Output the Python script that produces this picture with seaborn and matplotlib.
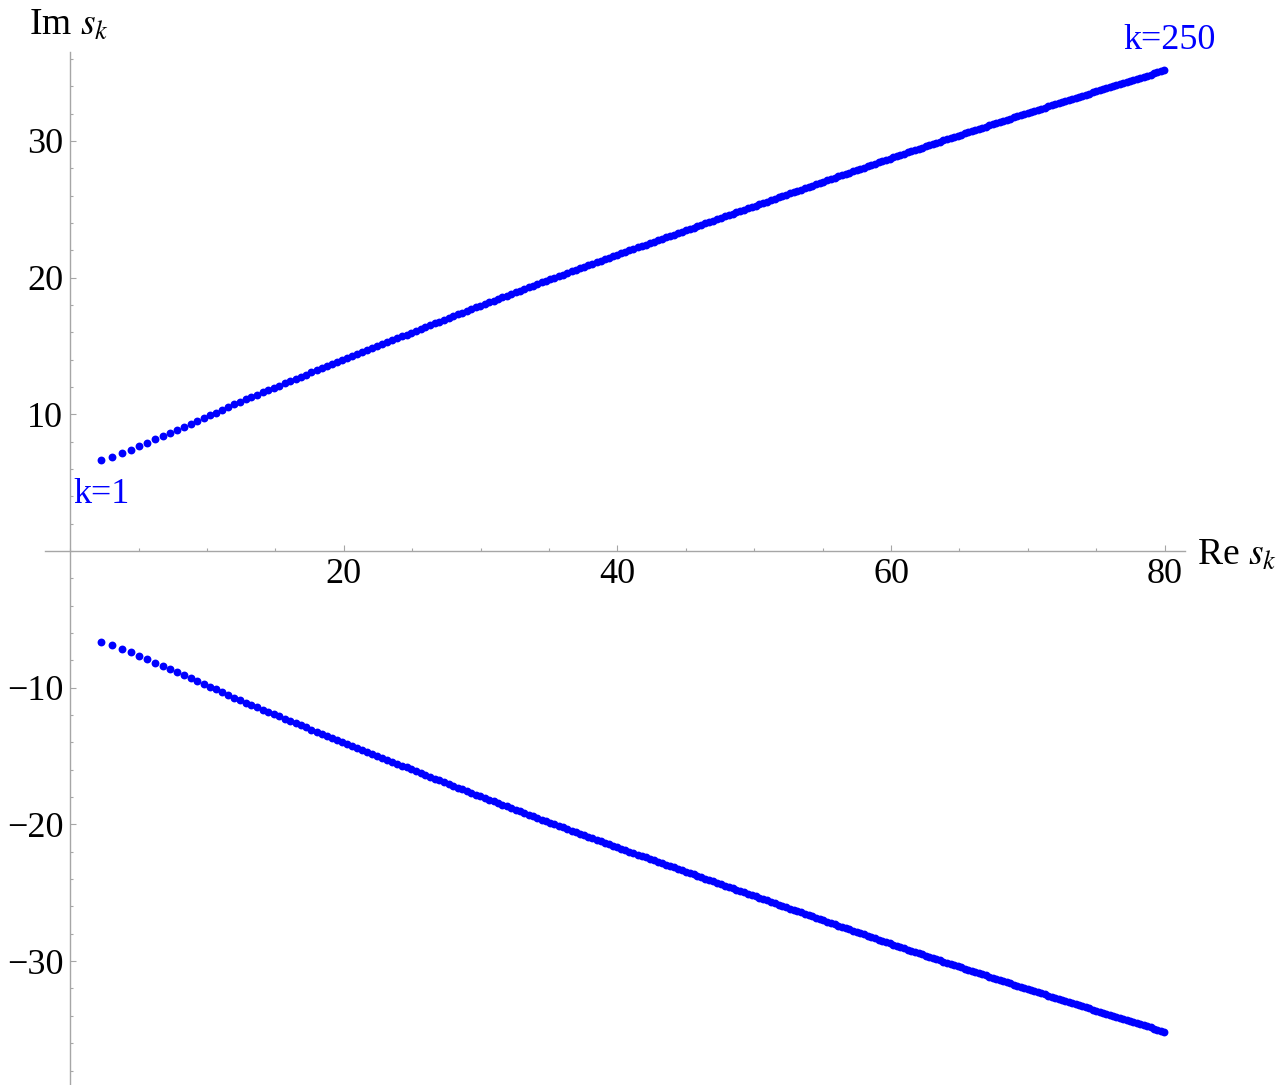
import pandas as pd
import seaborn as sns
import matplotlib.pyplot as plt
from matplotlib.ticker import MultipleLocator, FixedLocator

# Re s_k for k = 1..250 (upper branch)
re_s = [
    2.26, 3.07, 3.76, 4.42, 5.03, 5.63, 6.21, 6.77, 7.30, 7.82,
    8.32, 8.80, 9.27, 9.74, 10.19, 10.64, 11.08, 11.52, 11.96, 12.39,
    12.82, 13.24, 13.66, 14.07, 14.48, 14.88, 15.28, 15.68, 16.08, 16.47,
    16.86, 17.24, 17.62, 18.00, 18.38, 18.75, 19.12, 19.49, 19.86, 20.23,
    20.60, 20.96, 21.33, 21.69, 22.06, 22.43, 22.79, 23.16, 23.52, 23.89,
    24.23, 24.58, 24.92, 25.26, 25.61, 25.95, 26.29, 26.63, 26.98, 27.32,
    27.65, 27.98, 28.31, 28.64, 28.98, 29.31, 29.64, 29.97, 30.30, 30.63,
    30.95, 31.27, 31.59, 31.91, 32.23, 32.55, 32.87, 33.19, 33.51, 33.83,
    34.14, 34.45, 34.77, 35.08, 35.39, 35.70, 36.01, 36.33, 36.64, 36.95,
    37.25, 37.56, 37.86, 38.16, 38.47, 38.77, 39.07, 39.37, 39.68, 39.98,
    40.28, 40.57, 40.87, 41.17, 41.47, 41.76, 42.06, 42.36, 42.65, 42.95,
    43.24, 43.53, 43.82, 44.11, 44.40, 44.69, 44.98, 45.27, 45.56, 45.85,
    46.14, 46.42, 46.71, 46.99, 47.28, 47.56, 47.85, 48.13, 48.42, 48.70,
    48.98, 49.26, 49.54, 49.82, 50.10, 50.38, 50.66, 50.94, 51.22, 51.50,
    51.78, 52.05, 52.33, 52.60, 52.88, 53.15, 53.43, 53.70, 53.98, 54.25,
    54.52, 54.79, 55.06, 55.33, 55.61, 55.88, 56.15, 56.42, 56.69, 56.96,
    57.23, 57.49, 57.76, 58.03, 58.30, 58.56, 58.83, 59.10, 59.36, 59.63,
    59.89, 60.16, 60.42, 60.69, 60.95, 61.21, 61.48, 61.74, 62.01, 62.27,
    62.53, 62.79, 63.05, 63.31, 63.57, 63.83, 64.09, 64.35, 64.61, 64.87,
    65.13, 65.38, 65.64, 65.90, 66.16, 66.41, 66.67, 66.93, 67.18, 67.44,
    67.69, 67.95, 68.20, 68.46, 68.71, 68.96, 69.22, 69.47, 69.73, 69.98,
    70.23, 70.48, 70.74, 70.99, 71.24, 71.49, 71.74, 72.00, 72.25, 72.50,
    72.75, 73.00, 73.25, 73.50, 73.75, 73.99, 74.24, 74.49, 74.74, 74.99,
    75.24, 75.49, 75.73, 75.98, 76.23, 76.48, 76.73, 76.97, 77.22, 77.47,
    77.72, 77.97, 78.22, 78.47, 78.72, 78.97, 79.22, 79.47, 79.72, 79.97,
]

# Im s_k for k = 1..250 (upper branch); lower branch is the conjugate
im_s = [
    6.66, 6.90, 7.15, 7.41, 7.67, 7.93, 8.17, 8.41, 8.64, 8.87,
    9.09, 9.30, 9.51, 9.72, 9.93, 10.13, 10.33, 10.53, 10.73, 10.92,
    11.09, 11.26, 11.43, 11.60, 11.77, 11.94, 12.10, 12.26, 12.42, 12.58,
    12.74, 12.90, 13.06, 13.21, 13.36, 13.51, 13.66, 13.81, 13.96, 14.11,
    14.26, 14.40, 14.55, 14.69, 14.84, 14.98, 15.13, 15.27, 15.42, 15.56,
    15.70, 15.83, 15.97, 16.10, 16.24, 16.38, 16.51, 16.65, 16.78, 16.92,
    17.05, 17.18, 17.30, 17.43, 17.56, 17.69, 17.82, 17.94, 18.07, 18.20,
    18.32, 18.44, 18.56, 18.68, 18.81, 18.93, 19.05, 19.17, 19.29, 19.41,
    19.53, 19.64, 19.76, 19.87, 19.99, 20.10, 20.22, 20.33, 20.45, 20.56,
    20.67, 20.78, 20.89, 21.00, 21.12, 21.23, 21.34, 21.45, 21.56, 21.67,
    21.78, 21.88, 21.99, 22.09, 22.20, 22.31, 22.41, 22.52, 22.62, 22.73,
    22.83, 22.94, 23.04, 23.14, 23.25, 23.35, 23.45, 23.55, 23.66, 23.76,
    23.86, 23.96, 24.06, 24.16, 24.27, 24.37, 24.47, 24.57, 24.67, 24.77,
    24.87, 24.97, 25.07, 25.17, 25.27, 25.37, 25.46, 25.56, 25.66, 25.76,
    25.86, 25.95, 26.05, 26.15, 26.25, 26.34, 26.44, 26.54, 26.63, 26.73,
    26.83, 26.92, 27.02, 27.11, 27.21, 27.30, 27.40, 27.49, 27.59, 27.68,
    27.77, 27.87, 27.96, 28.05, 28.15, 28.24, 28.33, 28.42, 28.52, 28.61,
    28.70, 28.79, 28.88, 28.97, 29.06, 29.15, 29.24, 29.33, 29.42, 29.51,
    29.60, 29.68, 29.77, 29.86, 29.95, 30.03, 30.12, 30.21, 30.29, 30.38,
    30.46, 30.55, 30.63, 30.72, 30.80, 30.88, 30.97, 31.05, 31.14, 31.22,
    31.30, 31.38, 31.47, 31.55, 31.63, 31.71, 31.79, 31.88, 31.96, 32.04,
    32.12, 32.20, 32.28, 32.36, 32.44, 32.52, 32.60, 32.68, 32.76, 32.84,
    32.92, 33.00, 33.07, 33.15, 33.23, 33.31, 33.39, 33.46, 33.54, 33.62,
    33.70, 33.77, 33.85, 33.93, 34.01, 34.08, 34.16, 34.24, 34.31, 34.39,
    34.47, 34.54, 34.62, 34.70, 34.78, 34.85, 34.93, 35.01, 35.08, 35.16,
]

x_ticks = [20, 40, 60, 80]
y_ticks = [-30, -20, -10, 10, 20, 30]
end_labels = ["k=1", "k=250"]

upper = pd.DataFrame({"re": re_s, "im": im_s})
lower = pd.DataFrame({"re": re_s, "im": [-v for v in im_s]})
df = pd.concat([upper, lower], ignore_index=True)

sns.set_style("white")
plt.rcParams["font.family"] = ["Liberation Serif", "DejaVu Serif"]
plt.rcParams["mathtext.fontset"] = "stix"
plt.rcParams["axes.unicode_minus"] = True
plt.rcParams["text.color"] = "black"

W, H = 1280, 1085
fig = plt.figure(figsize=(W / 100, H / 100), dpi=100)
ax = fig.add_axes([45 / W, 0.0, (1185 - 45) / W, (H - 52) / H])

sns.scatterplot(data=df, x="re", y="im", color="blue", s=32,
                linewidth=0, ax=ax, legend=False, clip_on=False)

ax.set_xlim(-1.85, 81.49)
ax.set_ylim(-39.06, 36.5)

axis_grey = "#a6a6a6"
for side in ["top", "right"]:
    ax.spines[side].set_visible(False)
for side in ["left", "bottom"]:
    ax.spines[side].set_position(("data", 0))
    ax.spines[side].set_color(axis_grey)
    ax.spines[side].set_linewidth(1.0)

ax.xaxis.set_major_locator(FixedLocator(x_ticks))
ax.yaxis.set_major_locator(FixedLocator(y_ticks))
ax.xaxis.set_minor_locator(MultipleLocator(5))
ax.yaxis.set_minor_locator(MultipleLocator(2))
ax.tick_params(which="both", direction="in", color=axis_grey, width=0.8,
               labelsize=26, labelcolor="black", bottom=True, left=True)
ax.tick_params(which="major", length=4)
ax.tick_params(which="minor", length=2.5)
ax.tick_params(axis="y", pad=5)
ax.tick_params(axis="x", pad=5)
ax.set_xlabel("")
ax.set_ylabel("")

# axis labels placed like Mathematica's AxesLabel
ax.annotate("Im $s_k$", xy=(0, 1), xycoords="axes fraction",
            xytext=(29 - 45, 52 - 35), textcoords="offset pixels",
            ha="left", va="baseline", fontsize=27, color="black")
ax.annotate("Re $s_k$", xy=(1, 0), xycoords=("axes fraction", "data"),
            xytext=(1197 - 1185, -14), textcoords="offset pixels",
            ha="left", va="baseline", fontsize=27, color="black")

# end point labels
ax.annotate(end_labels[0], xy=(re_s[0], im_s[0]), xytext=(-28, -43),
            textcoords="offset pixels", ha="left", va="baseline",
            color="blue", fontsize=26)
ax.annotate(end_labels[1], xy=(re_s[-1], im_s[-1]), xytext=(-41, 21),
            textcoords="offset pixels", ha="left", va="baseline",
            color="blue", fontsize=26, annotation_clip=False)

fig.savefig("out.png", dpi=100)
